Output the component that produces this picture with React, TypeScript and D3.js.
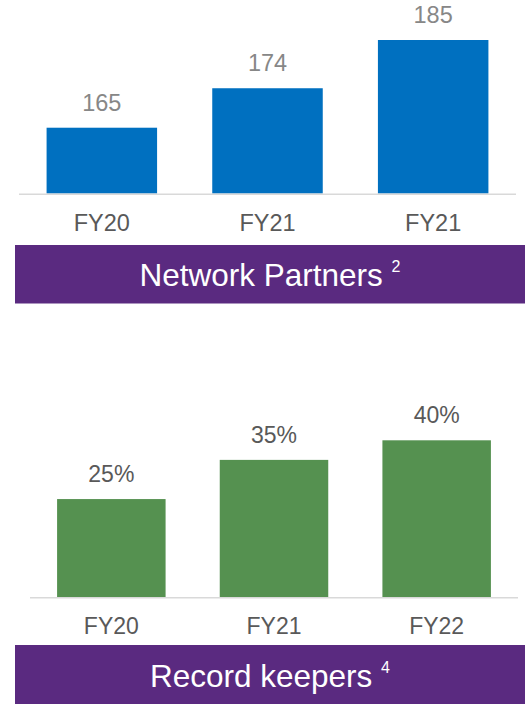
import React from "react";
import { scaleBand, scaleLinear } from "d3";

// chart values
const partnerYears = ["FY20", "FY21", "FY21"];
const partnerCounts = [165, 174, 185];
const keeperYears = ["FY20", "FY21", "FY22"];
const keeperShares = [25, 35, 40];

const FONT = "'Liberation Sans', Arial, Helvetica, sans-serif";
const PURPLE = "#5A2A80";

type PanelProps = {
  categories: string[];
  values: number[];
  format: (v: number) => string;
  domain: [number, number];
  xRange: [number, number];
  baseline: number;
  topY: number;
  color: string;
  valueColor: string;
  valueSize: number;
  catY: number;
  bannerY: number;
  bannerH: number;
  title: string;
  note: string;
};

const BarPanel = (p: PanelProps) => {
  const x = scaleBand<number>()
    .domain(p.values.map((_, i) => i))
    .range(p.xRange)
    .paddingInner(0.333)
    .paddingOuter(0.1665);
  const y = scaleLinear().domain(p.domain).range([p.baseline, p.topY]);

  return (
    <g>
      {p.values.map((v, i) => (
        <rect
          key={"b" + i}
          x={x(i)}
          y={y(v)}
          width={x.bandwidth()}
          height={p.baseline - y(v)}
          fill={p.color}
        />
      ))}
      <line
        x1={p.xRange[0]}
        x2={p.xRange[1]}
        y1={p.baseline + 0.75}
        y2={p.baseline + 0.75}
        stroke="#D9D9D9"
        strokeWidth={1.5}
      />
      {p.values.map((v, i) => (
        <text
          key={"v" + i}
          x={(x(i) as number) + x.bandwidth() / 2}
          y={y(v) - 17}
          textAnchor="middle"
          fontSize={p.valueSize}
          fill={p.valueColor}
        >
          {p.format(v)}
        </text>
      ))}
      {p.categories.map((c, i) => (
        <text
          key={"c" + i}
          x={(x(i) as number) + x.bandwidth() / 2}
          y={p.catY}
          textAnchor="middle"
          fontSize={p.valueSize}
          fill="#595959"
        >
          {c}
        </text>
      ))}
      <rect x={15} y={p.bannerY} width={510} height={p.bannerH} fill={PURPLE} />
      <text
        x={270}
        y={p.bannerY + p.bannerH / 2 + 12}
        textAnchor="middle"
        fontSize={31.5}
        fill="#ffffff"
      >
        {p.title + " "}
        <tspan fontSize={16} dy={-14}>
          {p.note}
        </tspan>
      </text>
    </g>
  );
};

export default function App() {
  return (
    <div style={{ position: "absolute", left: 0, top: 0 }}>
      <svg
        width={525}
        height={704}
        style={{ display: "block", fontFamily: FONT, background: "#ffffff" }}
      >
        <BarPanel
          categories={partnerYears}
          values={partnerCounts}
          format={(v) => String(v)}
          domain={[150, 185]}
          xRange={[19, 516]}
          baseline={193.5}
          topY={40}
          color="#0070C0"
          valueColor="#878787"
          valueSize={23.5}
          catY={231}
          bannerY={245}
          bannerH={58.5}
          title="Network Partners"
          note="2"
        />
        <BarPanel
          categories={keeperYears}
          values={keeperShares}
          format={(v) => v + "%"}
          domain={[0, 40]}
          xRange={[30, 518]}
          baseline={597}
          topY={440.3}
          color="#559150"
          valueColor="#595959"
          valueSize={23}
          catY={634.3}
          bannerY={645}
          bannerH={59}
          title="Record keepers"
          note="4"
        />
      </svg>
    </div>
  );
}
